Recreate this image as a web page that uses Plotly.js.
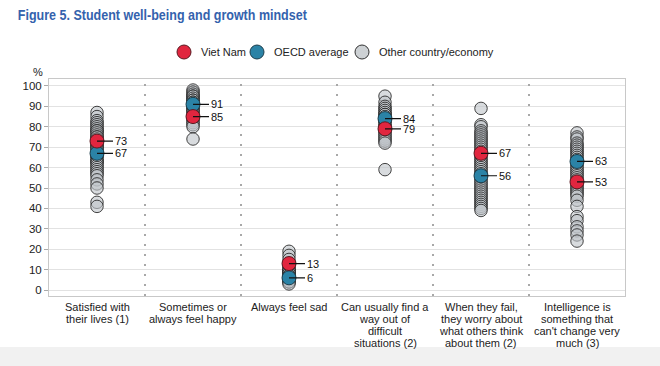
<!DOCTYPE html>
<html><head><meta charset="utf-8">
<script src="https://cdn.plot.ly/plotly-3.0.1.min.js"></script>
<style>
html,body{margin:0;padding:0;}
body{width:660px;height:366px;background:linear-gradient(to bottom,#ffffff 0px,#ffffff 347px,#f1f1f1 347px,#f1f1f1 366px);}
#chart{width:660px;height:366px;}
</style></head>
<body><div id="chart"></div>
<script>
const categories = [
  "Satisfied with<br>their lives (1)",
  "Sometimes or<br>always feel happy",
  "Always feel sad",
  "Can usually find a<br>way out of<br>difficult<br>situations (2)",
  "When they fail,<br>they worry about<br>what others think<br>about them (2)",
  "Intelligence is<br>something that<br>can't change very<br>much (3)"
];
const vietNam = [73, 85, 13, 79, 67, 53];
const oecd = [67, 91, 6, 84, 56, 63];
const other1 = [87,85,83,82,81,80,79,78,78,77,76,75,75,74,73,72,72,71,70,70,69,68,67,66,66,65,64,63,63,62,61,60,59,58,57,56,54,52,50,43,41];
const other2 = [98,97,96,95,95,94,93,93,92,92,91,90,90,89,88,88,87,86,85,84,83,82,81,80,74];
const other3 = [19,17,15,13,12,11,10,10,9,9,8,8,7,7,6,6,5,5,4,4,3];
const other4 = [95,92,90,89,88,87,86,86,85,84,84,83,83,82,81,80,80,79,78,77,76,75,74,73,72,59];
const other5 = [89,81,80,78,77,76,75,74,73,72,71,70,69,68,66,65,64,63,62,61,60,59,58,57,56,55,54,53,52,51,50,49,48,47,46,45,44,43,42,41,40,39];
const other6 = [77,75,74,72,71,70,69,68,67,66,65,64,63,62,61,60,59,58,57,56,55,54,53,52,51,50,49,48,47,46,44,41,36,34,31,29,27,24];
const yTicks = [0,10,20,30,40,50,60,70,80,90,100];
const legendNames = ["Viet Nam", "OECD average", "Other country/economy"];
const titleText = "Figure 5. Student well-being and growth mindset";

const FONT = 'Liberation Sans, Arial, sans-serif';
const RED = '#e1263f', BLUE = '#2b83a6';
const GREY_FILL = 'rgba(192,197,201,0.62)', GREY_LINE = 'rgba(35,35,35,0.85)';

const others = [other1, other2, other3, other4, other5, other6];
const ox = [], oy = [];
others.forEach((arr, i) => arr.forEach(v => { ox.push(i); oy.push(v); }));
const catIdx = categories.map((c, i) => i);

const traces = [
  {type:'scatter', mode:'markers', name:legendNames[2], x:ox, y:oy,
   marker:{size:12.5, color:GREY_FILL, line:{color:GREY_LINE, width:1}}},
  {type:'scatter', mode:'markers', name:legendNames[1], x:catIdx, y:oecd,
   marker:{size:14, color:BLUE, line:{color:'#1d3e4c', width:1}}},
  {type:'scatter', mode:'markers', name:legendNames[0], x:catIdx, y:vietNam,
   marker:{size:14, color:RED, line:{color:'#5a1a22', width:1}}}
];

const L = 49, T = 79, W = 576, H = 217;
const px2x = p => (p - L) / W;
const py2y = p => (T + H - p) / H;

const shapes = [];
for (let i = 0; i < categories.length - 1; i++) {
  shapes.push({type:'line', xref:'x', yref:'paper', x0:i+0.5, x1:i+0.5, y0:0, y1:1,
    line:{color:'#a8a8a8', width:2, dash:'2px,8px'}});
}

const annotations = [];
function addLabel(i, v) {
  annotations.push({x:i, y:v, xref:'x', yref:'y', text:String(v), showarrow:true, arrowhead:0,
    arrowwidth:1.2, arrowcolor:'#111', ax:16, ay:0, xanchor:'left', standoff:0,
    font:{family:FONT, size:11, color:'#111'}});
}
vietNam.forEach((v, i) => addLabel(i, v));
oecd.forEach((v, i) => addLabel(i, v));

categories.forEach((c, i) => {
  c.split('<br>').forEach((line, k) => {
    annotations.push({x:i, y:0, xref:'x', yref:'paper', yanchor:'middle', xanchor:'center',
      yshift:-(11 + 12*k), text:line, showarrow:false,
      font:{family:FONT, size:11, color:'#222'}});
  });
});

annotations.push({xref:'paper', yref:'paper', x:px2x(38), y:py2y(72), xanchor:'center', yanchor:'middle',
  text:'%', showarrow:false, font:{family:FONT, size:11, color:'#222'}});
// title centred on its target span (18px to 307px); condensed after drawing
annotations.push({xref:'paper', yref:'paper', x:px2x(162.5), y:py2y(15), xanchor:'center', yanchor:'middle',
  text:'<b>' + titleText + '</b>', showarrow:false,
  font:{family:FONT, size:15, color:'#3462ad'}});

const legX = [184, 257, 362];
const legFill = [RED, BLUE, 'rgba(205,209,212,1)'];
const legLine = ['#5a1a22', '#1d3e4c', '#333333'];
legendNames.forEach((n, i) => {
  shapes.push({type:'circle', xref:'paper', yref:'paper', xsizemode:'pixel', ysizemode:'pixel',
    xanchor:px2x(legX[i]), yanchor:py2y(52), x0:-7, x1:7, y0:-7, y1:7,
    fillcolor:legFill[i], line:{color:legLine[i], width:1}});
  annotations.push({xref:'paper', yref:'paper', x:px2x(legX[i] + 15), y:py2y(52), xanchor:'left', yanchor:'middle',
    text:n, showarrow:false, font:{family:FONT, size:11, color:'#222'}});
});

const layout = {
  width:660, height:366,
  margin:{l:L, r:660-L-W, t:T, b:366-T-H},
  paper_bgcolor:'rgba(0,0,0,0)', plot_bgcolor:'#ffffff',
  font:{family:FONT, size:11, color:'#222'},
  showlegend:false,
  xaxis:{range:[-0.5,5.5], tickvals:catIdx, ticktext:catIdx.map(() => ''), showgrid:false, zeroline:false,
    showline:true, mirror:true, linecolor:'#c8c8c8', linewidth:1, ticks:''},
  yaxis:{range:[-2.9,103.4], tickvals:yTicks, showgrid:true, gridcolor:'#e2e2e2', gridwidth:1,
    zeroline:false, showline:true, mirror:true, linecolor:'#c8c8c8', linewidth:1,
    ticks:'outside', ticklen:4, tickcolor:'#aaaaaa', tickfont:{family:FONT, size:11.5, color:'#222'}},
  shapes:shapes, annotations:annotations, hovermode:false
};
Plotly.newPlot('chart', traces, layout, {displayModeBar:false, staticPlot:true}).then(gd => {
  gd.querySelectorAll('text.annotation-text').forEach(t => {
    if (t.textContent.indexOf('Figure 5') === 0) {
      t.setAttribute('textLength', '289');
      t.setAttribute('lengthAdjust', 'spacingAndGlyphs');
    }
  });
});
</script></body></html>
